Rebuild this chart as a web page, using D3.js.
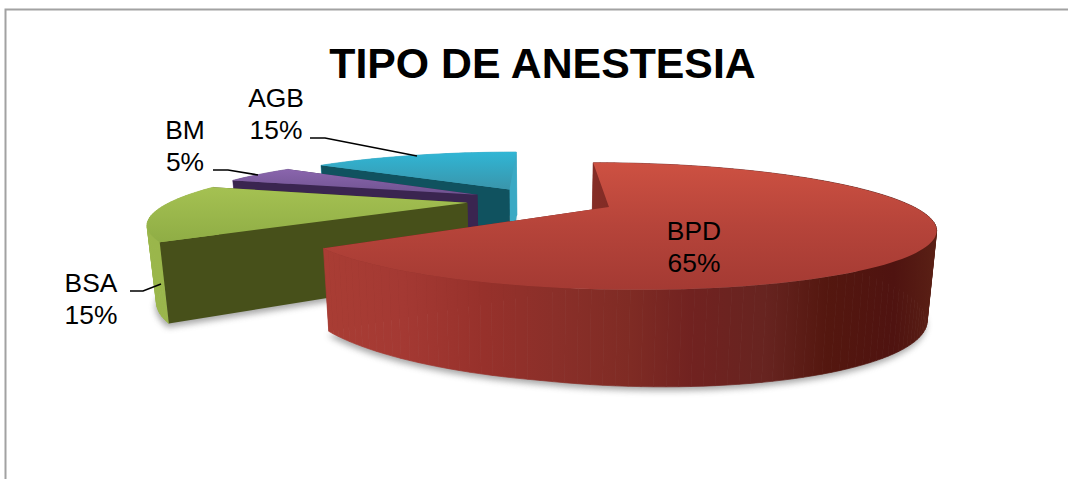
<!DOCTYPE html>
<html>
<head>
<meta charset="utf-8">
<script src="https://cdn.jsdelivr.net/npm/d3@7"></script>
<style>
    html, body { margin: 0; padding: 0; background: #fff; overflow: hidden; }
    text { font-family: "Liberation Sans", Arial, sans-serif; fill: #000; }
</style>
</head>
<body>
<div id="chart"></div>
<script>
    // Data
    const categories = ["BPD", "BSA", "BM", "AGB"];
    const values = [65, 15, 5, 15];
    const titleText = "TIPO DE ANESTESIA";

    const width = 1068;
    const height = 479;

    const svg = d3.select("#chart")
        .append("svg")
        .attr("width", width)
        .attr("height", height)
        .style("display", "block");

    const defs = svg.append("defs");

    // Perspective of the tilted disc
    const persp = 0.292;
    const explode = 0.25;
    const xScale = d3.scaleLinear().domain([-1, 1]).range([541 - 295, 541 + 295]);
    const yScale = d3.scaleLinear().domain([-1, 1]).range([200.7 + 54, 200.7 - 54]);

    function depthScale(v) { return 1 / (1 + persp * v); }

    function project(u, v) {
        const s = depthScale(v);
        return [xScale(u * s), yScale(v * s)];
    }

    // same point on the lower face of the pie
    function projectBase(u, v) {
        const s = depthScale(v);
        const d = s - 1;
        const h = 72 + 38 * d + 18 * d * d + 10 * Math.max(0, u);
        const p = project(u, v);
        return [xScale(0) + (p[0] - xScale(0)) * 0.976, p[1] + h];
    }

    const pie = d3.pie().sort(null).value(d => d);
    const arcs = pie(values);
    const line = d3.line();

    // colours for each slice
    const topStops = [
        [[0, "#cd5142"], [0.5, "#b6443a"], [1, "#a43a33"]],
        [[0, "#a5c152"], [1, "#8fad45"]],
        [[0, "#8a65ad"], [1, "#6f5390"]],
        [[0, "#30b6d5"], [1, "#3a95ab"]]
    ];
    const wallColors = ["#6b201c", "#47501a", "#3a2550", "#10525f"];
    const endWallColors = ["#6b201c", "#47501a", "#3a2550", "#3aa9c4"];
    const rimStops = [
        [[0, "#a93d34"], [0.13, "#a43933"], [0.26, "#97312b"], [0.38, "#8a2f29"], [0.5, "#7f2b24"], [0.6, "#712220"], [0.72, "#672420"], [0.82, "#54170f"], [0.93, "#4f1310"], [1, "#5a2015"]],
        [[0, "#9ab64b"], [1, "#9ab64b"]],
        [[0, "#6f5390"], [1, "#6f5390"]],
        [[0, "#3aa9c4"], [1, "#3aa9c4"]]
    ];

    function addGradient(id, stops, x1, y1, x2, y2) {
        const g = defs.append("linearGradient")
            .attr("id", id)
            .attr("gradientUnits", "userSpaceOnUse")
            .attr("x1", x1).attr("y1", y1)
            .attr("x2", x2).attr("y2", y2);
        stops.forEach(s => g.append("stop").attr("offset", s[0]).attr("stop-color", s[1]));
    }

    const blur = defs.append("filter").attr("id", "soft")
        .attr("x", "-10%").attr("y", "-20%").attr("width", "120%").attr("height", "140%");
    blur.append("feGaussianBlur").attr("stdDeviation", 3);

    // Frame, only top and left edges are in the crop
    svg.append("path")
        .attr("d", line([[5.5, height], [5.5, 9.5], [width, 9.5]]))
        .attr("fill", "none")
        .attr("stroke", "#a2a2a2")
        .attr("stroke-width", 2);

    // Draw the back slices first
    const drawOrder = [3, 2, 1, 0];

    drawOrder.forEach(i => {
        const d = arcs[i];
        const mid = (d.startAngle + d.endAngle) / 2;
        const u0 = explode * Math.sin(mid);
        const v0 = explode * Math.cos(mid);
        const steps = d3.range(0, 1.0001, 1 / Math.ceil((d.endAngle - d.startAngle) / 0.03));
        const rim = steps.map(t => {
            const a = d.startAngle + t * (d.endAngle - d.startAngle);
            return [u0 + Math.sin(a), v0 + Math.cos(a)];
        });
        const centre = [u0, v0];
        const topArc = rim.map(p => project(p[0], p[1]));
        const baseArc = rim.map(p => projectBase(p[0], p[1]));
        const topPts = [project(u0, v0)].concat(topArc);
        const basePts = [projectBase(u0, v0)].concat(baseArc);

        const yExt = d3.extent(topPts, p => p[1]);
        const xExt = d3.extent(topArc.concat(baseArc), p => p[0]);
        addGradient("top" + i, topStops[i], 0, yExt[0], 0, yExt[1]);
        addGradient("rim" + i, rimStops[i], xExt[0], 0, xExt[1], 0);

        const g = svg.append("g").attr("class", "slice");

        // soft shadow under the slice
        g.append("path")
            .attr("d", line(basePts) + "Z")
            .attr("transform", "translate(-1,4)")
            .attr("fill", "#8a8a8a")
            .attr("opacity", 0.75)
            .attr("filter", "url(#soft)");

        function face(edge, colour) {
            g.append("path")
                .attr("d", line([project(centre[0], centre[1]), project(edge[0], edge[1]),
                    projectBase(edge[0], edge[1]), projectBase(centre[0], centre[1])]) + "Z")
                .attr("fill", colour);
        }

        // rim as one quad per step, a single polygon folds over itself at the silhouette
        function drawRim() {
            g.append("g")
                .selectAll("path")
                .data(d3.range(rim.length - 1))
                .enter()
                .append("path")
                .attr("d", k => line([topArc[k], topArc[k + 1], baseArc[k + 1], baseArc[k]]) + "Z")
                .attr("fill", `url(#rim${i})`)
                .attr("stroke", `url(#rim${i})`)
                .attr("stroke-width", 0.7);
        }

        const spansFront = d.startAngle <= Math.PI && d.endAngle >= Math.PI;
        if (!spansFront) drawRim();
        face(rim[rim.length - 1], i === 3 ? endWallColors[i] : wallColors[i]);
        face(rim[0], wallColors[i]);
        if (spansFront) drawRim();

        g.append("path")
            .attr("d", line(topPts) + "Z")
            .attr("fill", `url(#top${i})`);
    });

    // Leader lines
    const leaders = [
        [[130, 291], [143, 291], [161, 284]],
        [[213, 170], [228, 170], [258, 175]],
        [[310, 138], [325, 138], [417, 156]]
    ];
    svg.selectAll(".leader")
        .data(leaders)
        .enter()
        .append("path")
        .attr("class", "leader")
        .attr("d", d => line(d))
        .attr("fill", "none")
        .attr("stroke", "#000")
        .attr("stroke-width", 1.6);

    // Title
    svg.append("text")
        .attr("x", 542.5)
        .attr("y", 78)
        .attr("text-anchor", "middle")
        .attr("font-weight", "bold")
        .attr("font-size", 42.8)
        .text(titleText);

    // Labels, same order as the categories
    const labelPos = [[694, 240], [91, 292], [185, 139], [276, 107]];
    const labels = svg.selectAll(".label")
        .data(arcs)
        .enter()
        .append("text")
        .attr("class", "label")
        .attr("text-anchor", "middle")
        .attr("font-size", 26.4);
    labels.append("tspan")
        .attr("x", (d, i) => labelPos[i][0])
        .attr("y", (d, i) => labelPos[i][1])
        .text((d, i) => categories[i]);
    labels.append("tspan")
        .attr("x", (d, i) => labelPos[i][0])
        .attr("y", (d, i) => labelPos[i][1] + 32)
        .text(d => d.data + "%");
</script>
</body>
</html>
